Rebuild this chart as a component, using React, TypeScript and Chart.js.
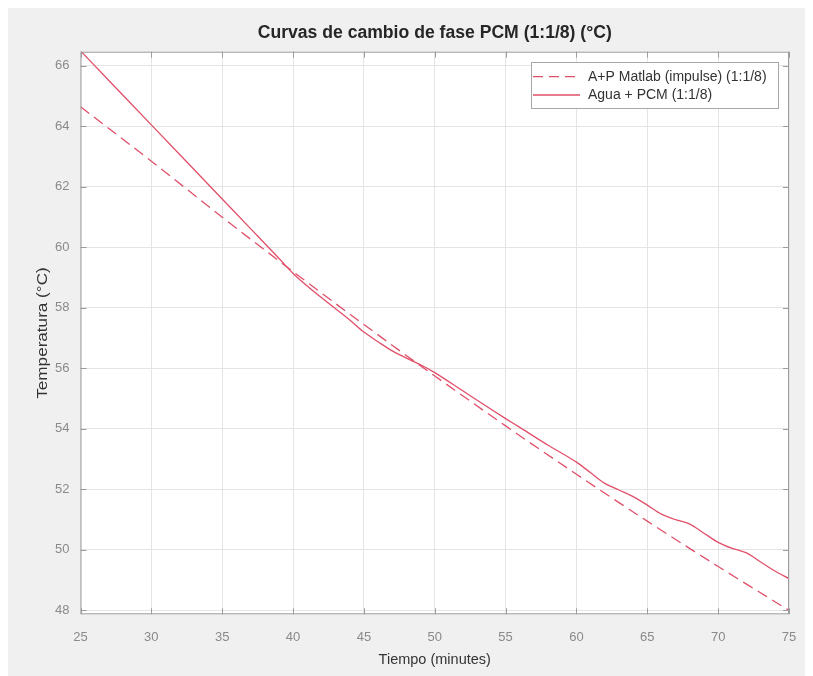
import React, { useEffect, useRef } from "react";
import { Chart, registerables } from "chart.js";

Chart.register(...registerables);

// ---- data ----
const titleText = "Curvas de cambio de fase PCM (1:1/8) (°C)";
const xTitle = "Tiempo (minutes)";
const yTitle = "Temperatura (°C)";
const seriesDashedName = "A+P Matlab (impulse) (1:1/8)";
const seriesSolidName = "Agua + PCM (1:1/8)";

const timeDashed = [25, 30, 35, 40, 45, 50, 55, 60, 65, 70, 75];
const tempDashed = [64.65, 62.85, 61.0, 59.2, 57.45, 55.75, 54.1, 52.5, 50.95, 49.45, 48.0];

const timeSolid = [25, 27, 30, 32, 35, 37, 39, 40, 42, 44, 45, 46, 47, 48, 49, 50, 52, 54, 55, 56, 58, 60, 61, 62, 63, 64, 65, 66, 67, 68, 69, 70, 71, 72, 73, 74, 75];
const tempSolid = [66.5, 65.52, 64.05, 63.07, 61.6, 60.62, 59.64, 59.14, 58.34, 57.6, 57.2, 56.88, 56.58, 56.34, 56.12, 55.86, 55.25, 54.64, 54.34, 54.05, 53.46, 52.9, 52.55, 52.2, 51.98, 51.76, 51.48, 51.18, 51.0, 50.85, 50.55, 50.25, 50.05, 49.9, 49.6, 49.3, 49.05];

const xTicks = [25, 30, 35, 40, 45, 50, 55, 60, 65, 70, 75];
const yTicks = [48, 50, 52, 54, 56, 58, 60, 62, 64, 66];

const X_MIN = 25;
const X_MAX = 75;
const Y_MIN = 47.87;
const Y_MAX = 66.47;

const LINE_COLOR = "#e0506a";
const AXIS_COLOR = "#9c9c9c";
const GRID_COLOR = "#e4e4e4";
const FONT = "'Liberation Sans', Arial, Helvetica, sans-serif";

function drawText(
  ctx: CanvasRenderingContext2D,
  text: string,
  x: number,
  y: number,
  font: string,
  color: string,
  opts: { rotate?: boolean; along?: number; across?: number; align?: CanvasTextAlign } = {}
) {
  ctx.save();
  ctx.translate(x, y);
  if (opts.rotate) ctx.rotate(-Math.PI / 2);
  ctx.scale(opts.along ?? 1, opts.across ?? 1);
  ctx.font = font;
  ctx.fillStyle = color;
  ctx.textAlign = opts.align ?? "center";
  ctx.textBaseline = "middle";
  ctx.fillText(text, 0, 0);
  ctx.restore();
}

const decorPlugin = {
  id: "matlabDecor",
  beforeDraw(chart: any) {
    const { ctx, chartArea } = chart;
    ctx.save();
    ctx.fillStyle = "#f0f0f0";
    ctx.fillRect(0, 0, chart.width, chart.height);
    ctx.fillStyle = "#ffffff";
    ctx.fillRect(chartArea.left, chartArea.top, chartArea.right - chartArea.left, chartArea.bottom - chartArea.top);
    ctx.restore();
  },
  afterDraw(chart: any) {
    const { ctx, chartArea } = chart;
    const xs = chart.scales.x;
    const ys = chart.scales.y;
    const { left, right, top, bottom } = chartArea;
    ctx.save();
    // box
    ctx.strokeStyle = AXIS_COLOR;
    ctx.lineWidth = 1;
    ctx.strokeRect(left + 0.5, top + 0.5, right - left - 1, bottom - top - 1);
    // inward ticks on all sides
    const tl = 6;
    ctx.beginPath();
    for (const v of xTicks) {
      const px = Math.round(xs.getPixelForValue(v)) + 0.5;
      ctx.moveTo(px, bottom);
      ctx.lineTo(px, bottom - tl);
      ctx.moveTo(px, top);
      ctx.lineTo(px, top + tl);
    }
    for (const v of yTicks) {
      const py = Math.round(ys.getPixelForValue(v)) + 0.5;
      ctx.moveTo(left, py);
      ctx.lineTo(left + tl, py);
      ctx.moveTo(right, py);
      ctx.lineTo(right - tl, py);
    }
    ctx.stroke();

    // titles
    const cx = (left + right) / 2;
    const cy = (top + bottom) / 2;
    drawText(ctx, titleText, cx, 25, `bold 17.6px ${FONT}`, "#262626");
    drawText(ctx, xTitle, cx, 652, `14.5px ${FONT}`, "#333333");
    drawText(ctx, yTitle, 35, cy, `14.5px ${FONT}`, "#333333", { rotate: true, along: 1.18 });

    // legend
    const lx = 523, ly = 54, lw = 247, lh = 46;
    ctx.fillStyle = "#ffffff";
    ctx.fillRect(lx, ly, lw, lh);
    ctx.strokeStyle = "#a8a8a8";
    ctx.lineWidth = 1;
    ctx.strokeRect(lx + 0.5, ly + 0.5, lw, lh);
    const entries = [
      { name: seriesDashedName, dash: [10, 6], y: ly + 14.7 },
      { name: seriesSolidName, dash: [], y: ly + 33 },
    ];
    for (const e of entries) {
      ctx.strokeStyle = LINE_COLOR;
      ctx.lineWidth = 1.3;
      ctx.setLineDash(e.dash);
      ctx.beginPath();
      ctx.moveTo(lx + 2, e.y);
      ctx.lineTo(lx + 49, e.y);
      ctx.stroke();
      ctx.setLineDash([]);
      drawText(ctx, e.name, lx + 57, e.y, `14px ${FONT}`, "#333333", { align: "left" });
    }
    ctx.restore();
  },
};

export default function App() {
  const canvasRef = useRef<HTMLCanvasElement | null>(null);

  useEffect(() => {
    if (!canvasRef.current) return;
    const chart = new Chart(canvasRef.current, {
      type: "line",
      data: {
        datasets: [
          {
            label: seriesDashedName,
            data: timeDashed.map((t, i) => ({ x: t, y: tempDashed[i] })),
            borderColor: LINE_COLOR,
            borderWidth: 1.3,
            borderDash: [11, 6],
            pointRadius: 0,
            fill: false,
            cubicInterpolationMode: "monotone",
          },
          {
            label: seriesSolidName,
            data: timeSolid.map((t, i) => ({ x: t, y: tempSolid[i] })),
            borderColor: LINE_COLOR,
            borderWidth: 1.3,
            pointRadius: 0,
            fill: false,
            cubicInterpolationMode: "monotone",
          },
        ],
      },
      options: {
        responsive: false,
        animation: false,
        devicePixelRatio: 1,
        layout: { padding: { left: 0, top: 43.7, right: 24, bottom: 0 } },
        plugins: {
          legend: { display: false },
          title: { display: false },
          tooltip: { enabled: false },
        },
        scales: {
          x: {
            type: "linear",
            min: X_MIN,
            max: X_MAX,
            afterBuildTicks: (s: any) => {
              s.ticks = xTicks.map((v) => ({ value: v }));
            },
            afterFit: (s: any) => {
              s.height = 61.7;
            },
            grid: { color: GRID_COLOR, drawTicks: false, lineWidth: 1 },
            border: { display: false },
            ticks: {
              padding: 15,
              color: "#8a8a8a",
              font: { family: FONT, size: 13 },
              maxRotation: 0,
              autoSkip: false,
            },
          },
          y: {
            type: "linear",
            min: Y_MIN,
            max: Y_MAX,
            afterBuildTicks: (s: any) => {
              s.ticks = yTicks.map((v) => ({ value: v }));
            },
            afterFit: (s: any) => {
              s.width = 72.5;
            },
            grid: { color: GRID_COLOR, drawTicks: false, lineWidth: 1 },
            border: { display: false },
            ticks: {
              padding: 11,
              color: "#8a8a8a",
              font: { family: FONT, size: 13 },
              autoSkip: false,
            },
          },
        },
      },
      plugins: [decorPlugin],
    } as any);
    return () => chart.destroy();
  }, []);

  return (
    <div style={{ width: 805, height: 668 }}>
      <canvas ref={canvasRef} width={805} height={668} style={{ display: "block" }} />
    </div>
  );
}
